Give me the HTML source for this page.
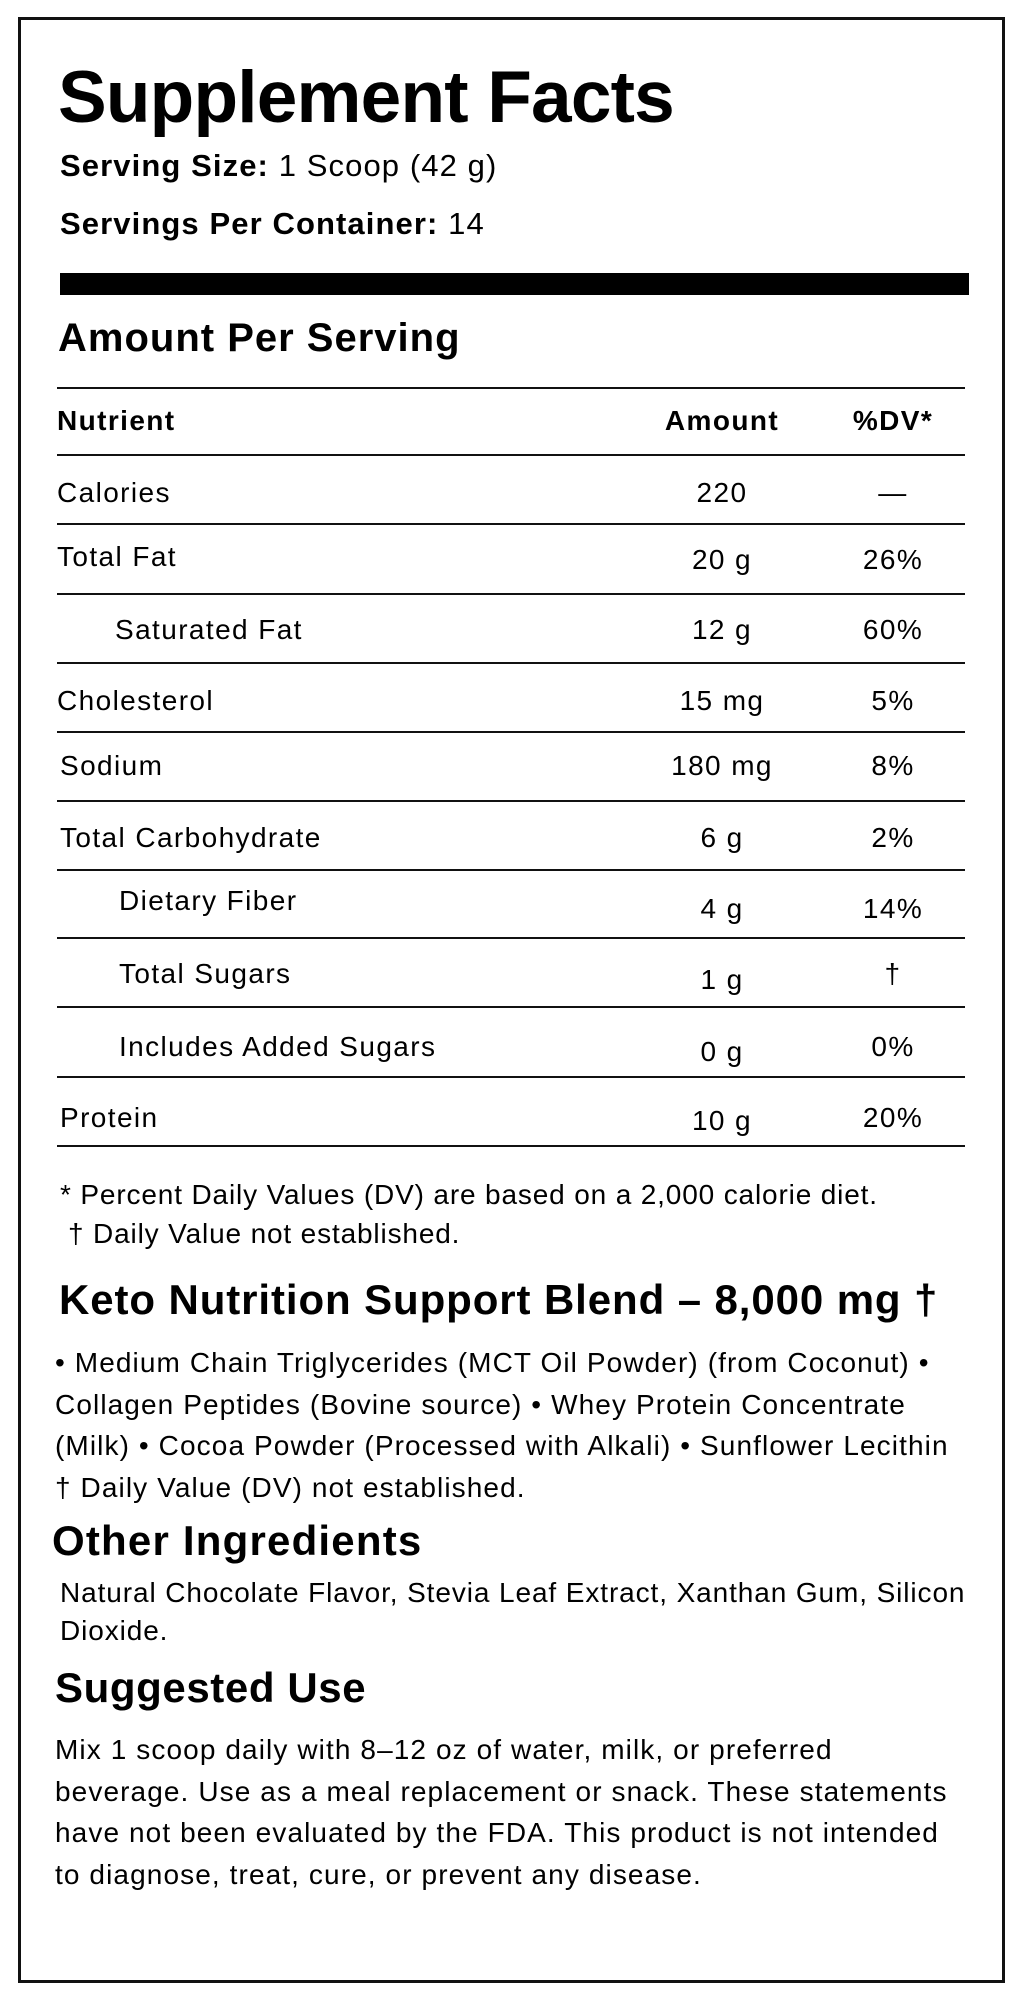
<!DOCTYPE html>
<html><head><meta charset="utf-8"><style>
*{margin:0;padding:0;box-sizing:border-box}
body{width:1024px;height:2000px;background:#fff;position:relative;font-family:"Liberation Sans",sans-serif;color:#000;overflow:hidden}
.b{position:absolute;left:18px;top:17px;width:987px;height:1966px;border:3px solid #111}
.t{position:absolute;white-space:nowrap;height:40px;line-height:40px}
.bold{font-weight:bold}
.ln{position:absolute;left:57px;width:908px;height:2px;background:#111}
.c1{left:662px;width:120px;text-align:center}
.c2{left:833px;width:120px;text-align:center}
.r{font-size:28px;letter-spacing:1.4px}
.p{font-size:28px;letter-spacing:1.1px}
</style></head><body>
<div class="b"></div>
<div class="t bold" style="left:58px;top:60px;height:76px;line-height:76px;font-size:73px;letter-spacing:-0.8px">Supplement Facts</div>
<div class="t" style="left:60px;top:146px;font-size:31px;letter-spacing:1.1px"><b>Serving Size:</b> 1 Scoop (42 g)</div>
<div class="t" style="left:60px;top:204px;font-size:31px;letter-spacing:1.1px"><b>Servings Per Container:</b> 14</div>
<div style="position:absolute;left:60px;top:273px;width:909px;height:22px;background:#000"></div>
<div class="t bold" style="left:58px;top:316px;height:44px;line-height:44px;font-size:40px;letter-spacing:1px">Amount Per Serving</div>

<div class="ln" style="top:387px"></div>
<div class="ln" style="top:454px"></div>
<div class="ln" style="top:523px"></div>
<div class="ln" style="top:593px"></div>
<div class="ln" style="top:662px"></div>
<div class="ln" style="top:731px"></div>
<div class="ln" style="top:800px"></div>
<div class="ln" style="top:869px"></div>
<div class="ln" style="top:937px"></div>
<div class="ln" style="top:1006px"></div>
<div class="ln" style="top:1076px"></div>
<div class="ln" style="top:1145px"></div>

<div class="t bold r" style="left:57px;top:401px">Nutrient</div>
<div class="t bold r c1" style="top:401px">Amount</div>
<div class="t bold r c2" style="top:401px">%DV*</div>

<div class="t r" style="left:57px;top:473px">Calories</div><div class="t r c1" style="top:473px">220</div><div class="t r c2" style="top:473px">—</div>
<div class="t r" style="left:57px;top:537px">Total Fat</div><div class="t r c1" style="top:540px">20 g</div><div class="t r c2" style="top:540px">26%</div>
<div class="t r" style="left:115px;top:610px">Saturated Fat</div><div class="t r c1" style="top:610px">12 g</div><div class="t r c2" style="top:610px">60%</div>
<div class="t r" style="left:57px;top:681px">Cholesterol</div><div class="t r c1" style="top:681px">15 mg</div><div class="t r c2" style="top:681px">5%</div>
<div class="t r" style="left:60px;top:746px">Sodium</div><div class="t r c1" style="top:746px">180 mg</div><div class="t r c2" style="top:746px">8%</div>
<div class="t r" style="left:60px;top:818px">Total Carbohydrate</div><div class="t r c1" style="top:818px">6 g</div><div class="t r c2" style="top:818px">2%</div>
<div class="t r" style="left:119px;top:881px">Dietary Fiber</div><div class="t r c1" style="top:889px">4 g</div><div class="t r c2" style="top:889px">14%</div>
<div class="t r" style="left:119px;top:954px">Total Sugars</div><div class="t r c1" style="top:960px">1 g</div><div class="t r c2" style="top:954px">†</div>
<div class="t r" style="left:119px;top:1027px">Includes Added Sugars</div><div class="t r c1" style="top:1032px">0 g</div><div class="t r c2" style="top:1027px">0%</div>
<div class="t r" style="left:60px;top:1098px">Protein</div><div class="t r c1" style="top:1101px">10 g</div><div class="t r c2" style="top:1098px">20%</div>

<div class="t p" style="left:60px;top:1175px;letter-spacing:0.85px">* Percent Daily Values (DV) are based on a 2,000 calorie diet.</div>
<div class="t p" style="left:68px;top:1214px;letter-spacing:0.85px">† Daily Value not established.</div>

<div class="t bold" style="left:59px;top:1277px;height:46px;line-height:46px;font-size:42px;letter-spacing:0.9px">Keto Nutrition Support Blend – 8,000 mg †</div>
<div class="t p" style="left:55px;top:1342px;line-height:41.5px;height:170px">• Medium Chain Triglycerides (MCT Oil Powder) (from Coconut) •<br>Collagen Peptides (Bovine source) • Whey Protein Concentrate<br>(Milk) • Cocoa Powder (Processed with Alkali) • Sunflower Lecithin<br>† Daily Value (DV) not established.</div>

<div class="t bold" style="left:52px;top:1518px;height:46px;line-height:46px;font-size:42px;letter-spacing:1.2px">Other Ingredients</div>
<div class="t p" style="left:60px;top:1574px;line-height:38px;height:80px;letter-spacing:0.9px">Natural Chocolate Flavor, Stevia Leaf Extract, Xanthan Gum, Silicon<br>Dioxide.</div>

<div class="t bold" style="left:55px;top:1665px;height:46px;line-height:46px;font-size:42px;letter-spacing:0.6px">Suggested Use</div>
<div class="t p" style="left:55px;top:1729px;line-height:41.7px;height:170px">Mix 1 scoop daily with 8–12 oz of water, milk, or preferred<br>beverage. Use as a meal replacement or snack. These statements<br>have not been evaluated by the FDA. This product is not intended<br>to diagnose, treat, cure, or prevent any disease.</div>
</body></html>
